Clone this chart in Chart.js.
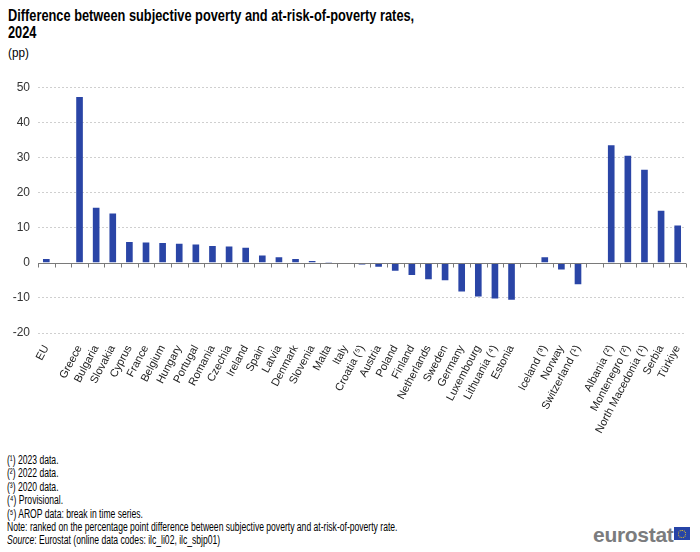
<!DOCTYPE html>
<html>
<head>
<meta charset="utf-8">
<script src="https://cdn.jsdelivr.net/npm/chart.js@4"></script>
<style>
  body { margin: 0; width: 700px; height: 552px; background: #fff; position: relative; overflow: hidden;
         font-family: "Liberation Sans", Arial, sans-serif; color: #000; }
  #title { position: absolute; left: 8px; top: 7px; font-size: 16px; font-weight: bold; line-height: 17px;
           white-space: nowrap; transform: scaleX(0.8); transform-origin: 0 0; }
  #unit { position: absolute; left: 8px; top: 45px; font-size: 13px; transform: scaleX(0.9); transform-origin: 0 0; }
  #wrap { position: absolute; left: 0; top: 72px; width: 700px; height: 373px; }
  #notes { position: absolute; left: 7px; top: 454px; font-size: 12px; line-height: 13.4px; white-space: nowrap;
           transform: scaleX(0.715); transform-origin: 0 0; }
  #logo { position: absolute; left: 593px; top: 523px; font-weight: bold; font-size: 21px; color: #7b7c7e;
          letter-spacing: -0.3px; }
  #flag { position: absolute; left: 674px; top: 527px; width: 16px; height: 13px; background: #2644a7; }
  #flag span { position: absolute; left: 4px; top: 2.5px; width: 6px; height: 6px; border: 1px dotted #f7d117; border-radius: 50%; }
</style>
</head>
<body>
<div id="title">Difference between subjective poverty and at-risk-of-poverty rates,<br>2024</div>
<div id="unit">(pp)</div>
<div id="wrap"><canvas id="chart" width="700" height="373"></canvas></div>
<div id="notes">
  (¹) 2023 data.<br>
  (²) 2022 data.<br>
  (³) 2020 data.<br>
  (⁴) Provisional.<br>
  (⁵) AROP data: break in time series.<br>
  Note: ranked on the percentage point difference between subjective poverty and at-risk-of-poverty rate.<br>
  <i>Source</i>: Eurostat (online data codes: ilc_li02, ilc_sbjp01)
</div>
<div id="logo">eurostat</div>
<div id="flag"><span></span></div>

<script>
const countries = [
  "EU", "",
  "Greece", "Bulgaria", "Slovakia", "Cyprus", "France", "Belgium", "Hungary", "Portugal",
  "Romania", "Czechia", "Ireland", "Spain", "Latvia", "Denmark", "Slovenia", "Malta", "Italy",
  "Croatia (⁵)", "Austria", "Poland", "Finland", "Netherlands", "Sweden", "Germany",
  "Luxembourg", "Lithuania (⁴)", "Estonia", "",
  "Iceland (³)", "Norway", "Switzerland (¹)", "",
  "Albania (²)", "Montenegro (²)", "North Macedonia (¹)", "Serbia", "Türkiye"
];
const diffPP = [
  1.1, null,
  47.2, 15.7, 14.0, 5.9, 5.8, 5.6, 5.4, 5.2,
  4.8, 4.6, 4.3, 2.1, 1.6, 1.1, 0.5, 0.2, 0.0,
  -0.5, -1.1, -2.3, -3.5, -4.7, -5.0, -8.2,
  -9.6, -10.2, -10.5, null,
  1.6, -1.9, -6.1, null,
  33.5, 30.5, 26.5, 14.8, 10.6
];
const yTicks = [-20, -10, 0, 10, 20, 30, 40, 50];

// dark zero line with small ticks between categories
const zeroLine = {
  id: "zeroLine",
  afterDatasetsDraw(chart) {
    const { ctx, scales: { x, y } } = chart;
    const y0 = Math.round(y.getPixelForValue(0)) + 0.5;
    const n = countries.length;
    const step = x.width / n;
    ctx.save();
    ctx.strokeStyle = "#7a7a7a";
    ctx.lineWidth = 1;
    ctx.beginPath();
    ctx.moveTo(x.left, y0);
    ctx.lineTo(x.right, y0);
    for (let i = 0; i <= n; i++) {
      const px = Math.round(x.left + i * step) + 0.5;
      ctx.moveTo(px, y0);
      ctx.lineTo(px, y0 + 4);
    }
    ctx.stroke();
    ctx.restore();
  }
};

const ctx = document.getElementById("chart").getContext("2d");
new Chart(ctx, {
  type: "bar",
  data: {
    labels: countries,
    datasets: [{
      data: diffPP,
      backgroundColor: "#2a45a6",
      barPercentage: 0.8,
      categoryPercentage: 0.5
    }]
  },
  options: {
    responsive: false,
    animation: false,
    devicePixelRatio: 1,
    layout: { padding: { top: 9, right: 14, left: 0, bottom: 0 } },
    plugins: { legend: { display: false }, tooltip: { enabled: false } },
    scales: {
      x: {
        grid: { display: false },
        border: { display: false },
        ticks: {
          minRotation: 62, maxRotation: 62, autoSkip: false, padding: 2,
          color: "#222",
          font: { family: "'Liberation Sans', Arial", size: 11 }
        },
        afterFit: s => { s.height = 112; }
      },
      y: {
        min: -20, max: 50,
        afterBuildTicks: s => { s.ticks = yTicks.map(v => ({ value: v })); },
        grid: {
          drawTicks: false,
          color: c => c.tick && c.tick.value === 0 ? "rgba(0,0,0,0)" : "#cfcfcf"
        },
        border: { display: false, dash: [2, 2] },
        ticks: {
          padding: 8, color: "#333",
          font: { family: "'Liberation Sans', Arial", size: 12 }
        },
        afterFit: s => { s.width = 38; }
      }
    }
  },
  plugins: [zeroLine]
});
</script>
</body>
</html>
